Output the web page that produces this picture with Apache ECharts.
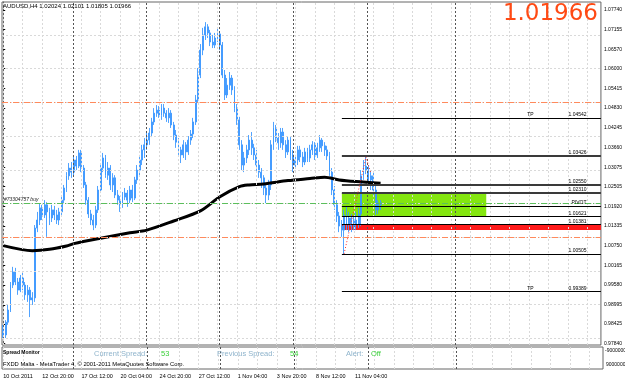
<!DOCTYPE html>
<html><head><meta charset="utf-8">
<script src="https://cdn.jsdelivr.net/npm/echarts@6/dist/echarts.min.js"></script>
<style>html,body{margin:0;padding:0;background:#fff}#c{width:625px;height:380px}</style>
</head><body><div id="c"></div>
<script>
// ---------------- data ----------------
const symbolName = 'AUDUSD,H4';
const lastOHLC = [1.02024, 1.02101, 1.01805, 1.01966]; // O H L C
const timeLabels = ['10 Oct 2011','12 Oct 20:00','17 Oct 12:00','20 Oct 04:00','24 Oct 20:00','27 Oct 12:00','1 Nov 04:00','3 Nov 20:00','8 Nov 12:00','11 Nov 04:00'];
const timeLabelBars = [0,16,32,48,64,80,96,112,128,144];
const totalSlots = 246;
// [open, close, low, high]
const ohlc = [
[0.9825,0.9810,0.9801,0.9840],[0.9810,0.9848,0.9801,0.9854],[0.9848,0.9884,0.9840,0.9899],[0.9884,0.9958,0.9878,0.9967],
[0.9958,0.9997,0.9949,1.0012],[0.9997,0.9967,0.9958,1.0009],[0.9967,0.9943,0.9929,0.9979],[0.9943,0.9979,0.9937,0.9988],
[0.9979,0.9958,0.9943,0.9994],[0.9958,0.9929,0.9914,0.9967],[0.9929,0.9943,0.9908,0.9958],[0.9943,0.9914,0.9863,0.9952],
[0.9914,0.9920,0.9899,0.9937],[0.9920,1.0127,0.9908,1.0136],[1.0127,1.0151,1.0115,1.0175],[1.0151,1.0187,1.0136,1.0201],
[1.0187,1.0166,1.0151,1.0196],[1.0166,1.0196,1.0157,1.0210],[1.0196,1.0175,1.0101,1.0204],[1.0175,1.0157,1.0136,1.0187],
[1.0157,1.0181,1.0145,1.0196],[1.0181,1.0166,1.0151,1.0193],[1.0166,1.0151,1.0139,1.0181],[1.0151,1.0175,1.0136,1.0187],
[1.0175,1.0210,1.0166,1.0222],[1.0210,1.0246,1.0201,1.0255],[1.0246,1.0282,1.0234,1.0293],[1.0282,1.0305,1.0270,1.0320],
[1.0305,1.0293,1.0276,1.0323],[1.0293,1.0329,1.0282,1.0338],[1.0329,1.0311,1.0299,1.0341],[1.0311,1.0350,1.0305,1.0359],
[1.0350,1.0305,1.0293,1.0359],[1.0305,1.0255,1.0246,1.0314],[1.0255,1.0210,1.0196,1.0264],[1.0210,1.0169,1.0157,1.0219],
[1.0169,1.0151,1.0136,1.0181],[1.0151,1.0136,1.0121,1.0166],[1.0136,1.0181,1.0127,1.0193],[1.0181,1.0240,1.0172,1.0252],
[1.0240,1.0305,1.0231,1.0314],[1.0305,1.0335,1.0293,1.0350],[1.0335,1.0284,1.0276,1.0344],[1.0284,1.0305,1.0270,1.0323],
[1.0305,1.0255,1.0240,1.0314],[1.0255,1.0276,1.0234,1.0290],[1.0276,1.0225,1.0216,1.0284],[1.0225,1.0210,1.0196,1.0240],
[1.0210,1.0196,1.0175,1.0222],[1.0196,1.0219,1.0187,1.0234],[1.0219,1.0231,1.0210,1.0246],[1.0231,1.0210,1.0190,1.0240],
[1.0210,1.0240,1.0201,1.0252],[1.0240,1.0216,1.0204,1.0255],[1.0216,1.0270,1.0210,1.0279],[1.0270,1.0299,1.0258,1.0314],
[1.0299,1.0329,1.0284,1.0344],[1.0329,1.0359,1.0314,1.0374],[1.0359,1.0374,1.0335,1.0394],[1.0374,1.0388,1.0359,1.0409],
[1.0388,1.0409,1.0374,1.0424],[1.0409,1.0442,1.0397,1.0454],[1.0442,1.0468,1.0433,1.0483],[1.0468,1.0477,1.0457,1.0492],
[1.0477,1.0462,1.0454,1.0489],[1.0462,1.0483,1.0448,1.0495],[1.0483,1.0468,1.0457,1.0495],[1.0468,1.0454,1.0442,1.0477],
[1.0454,1.0468,1.0439,1.0483],[1.0468,1.0433,1.0424,1.0477],[1.0433,1.0403,1.0388,1.0442],[1.0403,1.0382,1.0365,1.0418],
[1.0382,1.0359,1.0344,1.0394],[1.0359,1.0344,1.0320,1.0368],[1.0344,1.0374,1.0335,1.0388],[1.0374,1.0353,1.0329,1.0382],
[1.0353,1.0388,1.0344,1.0400],[1.0388,1.0406,1.0374,1.0418],[1.0406,1.0442,1.0394,1.0454],[1.0442,1.0507,1.0433,1.0522],
[1.0507,1.0581,1.0498,1.0602],[1.0581,1.0655,1.0572,1.0673],[1.0655,1.0700,1.0640,1.0721],[1.0700,1.0724,1.0685,1.0738],
[1.0724,1.0706,1.0691,1.0732],[1.0706,1.0679,1.0667,1.0715],[1.0679,1.0670,1.0661,1.0700],[1.0670,1.0691,1.0661,1.0706],
[1.0691,1.0703,1.0679,1.0721],[1.0703,1.0670,1.0655,1.0709],[1.0670,1.0581,1.0572,1.0679],[1.0581,1.0522,1.0507,1.0596],
[1.0522,1.0551,1.0513,1.0572],[1.0551,1.0572,1.0537,1.0590],[1.0572,1.0537,1.0522,1.0581],[1.0537,1.0483,1.0471,1.0548],
[1.0483,1.0448,1.0433,1.0495],[1.0448,1.0374,1.0359,1.0457],[1.0374,1.0314,1.0299,1.0388],[1.0314,1.0335,1.0293,1.0353],
[1.0335,1.0359,1.0320,1.0374],[1.0359,1.0388,1.0344,1.0403],[1.0388,1.0365,1.0344,1.0412],[1.0365,1.0344,1.0329,1.0377],
[1.0344,1.0314,1.0293,1.0359],[1.0314,1.0293,1.0276,1.0329],[1.0293,1.0276,1.0246,1.0305],[1.0276,1.0246,1.0225,1.0284],
[1.0246,1.0225,1.0201,1.0261],[1.0225,1.0255,1.0210,1.0270],[1.0255,1.0374,1.0240,1.0388],[1.0374,1.0424,1.0359,1.0442],
[1.0424,1.0394,1.0382,1.0433],[1.0394,1.0380,1.0359,1.0409],[1.0380,1.0412,1.0365,1.0424],[1.0412,1.0374,1.0359,1.0424],
[1.0374,1.0353,1.0335,1.0388],[1.0353,1.0388,1.0344,1.0400],[1.0388,1.0344,1.0329,1.0397],[1.0344,1.0314,1.0293,1.0359],
[1.0314,1.0329,1.0305,1.0344],[1.0329,1.0359,1.0314,1.0371],[1.0359,1.0338,1.0323,1.0371],[1.0338,1.0323,1.0308,1.0353],
[1.0323,1.0353,1.0314,1.0365],[1.0353,1.0335,1.0323,1.0365],[1.0335,1.0359,1.0323,1.0374],[1.0359,1.0374,1.0344,1.0385],
[1.0374,1.0344,1.0329,1.0382],[1.0344,1.0365,1.0335,1.0380],[1.0365,1.0388,1.0353,1.0403],[1.0388,1.0371,1.0353,1.0394],
[1.0371,1.0359,1.0341,1.0382],[1.0359,1.0341,1.0329,1.0371],[1.0341,1.0293,1.0282,1.0353],[1.0293,1.0240,1.0225,1.0305],
[1.0240,1.0196,1.0181,1.0252],[1.0196,1.0163,1.0145,1.0210],[1.0163,1.0133,1.0115,1.0175],[1.0133,1.0121,1.0101,1.0151],
[1.0121,1.0166,1.0050,1.0181],[1.0166,1.0136,1.0121,1.0193],[1.0136,1.0157,1.0115,1.0175],[1.0157,1.0133,1.0115,1.0169],
[1.0133,1.0151,1.0121,1.0163],[1.0151,1.0139,1.0121,1.0175],[1.0139,1.0169,1.0127,1.0187],[1.0169,1.0282,1.0133,1.0299],
[1.0282,1.0311,1.0270,1.0329],[1.0311,1.0299,1.0287,1.0338],[1.0299,1.0270,1.0252,1.0314],[1.0270,1.0282,1.0240,1.0299],
[1.0282,1.0240,1.0225,1.0293],[1.0240,1.0181,1.0166,1.0252],[1.0181,1.0202,1.0169,1.0210],[1.02024,1.01966,1.01805,1.02101]
];
// moving average read at bar positions: [bar, value]
const maPoints = [[0,1.0075],[12,1.0060],[19,1.0064],[26,1.0074],[29,1.0081],[40,1.0097],[52,1.0113],[59,1.0121],[70,1.0148],[81,1.0178],[89,1.0220],[97,1.0250],[101,1.0255],[107,1.0258],[117,1.0268],[126,1.0274],[132,1.0278],[138,1.0270],[145,1.0265],[155,1.0260]];
const yTicks = [1.07740,1.07155,1.06570,1.06000,1.05415,1.04830,1.04245,1.03660,1.03075,1.02505,1.01920,1.01335,1.00750,1.00165,0.99580,0.98995,0.98425,0.97840];
const weekSeparators = [28.7, 58.9, 88.9, 119, 149.5, 185.6];
const levelPrices = [1.04542, 1.03426, 1.02550, 1.02310, 1.0193, 1.01621, 1.01381, 1.00505, 0.99389];
const levelTexts  = ['1.04542','1.03426','1.02550','1.02310','PIVOT','1.01621','1.01381','1.00505','0.99389'];
const levelTags   = ['TP','','','','','','','','TP'];
const levelStart = 139.1;
const orderBuy = 1.02036, orderTP = 1.04542, orderSL = 1.0137;
const orderText = '#73304757 buy';
const greenZone = [139.1, 198.4, 1.02310, 1.01621];
const redZone = [139.1, 245.5, 1.01381, 1.01212];
const zigzag = [[140,1.00505],[149,1.0338],[151,1.0290]];
const spreadCurrent = 53, spreadPrevious = 54, alertState = 'Off';
const subAxisLabels = ['-9000000','9000000'];

// --------------- chart ----------------
const F = 'Liberation Sans';
const categories = Array.from({length: totalSlots}, () => '');
timeLabelBars.forEach((b, k) => { categories[b] = timeLabels[k]; });
const gridCols = [];
for (let i = 0; i <= 240; i += 8) gridCols.push(i);

const chart = echarts.init(document.getElementById('c'));
const noLbl = {show: false};
function mlSeries(xi, yi, z, data, style) {
  return {type:'line', xAxisIndex:xi, yAxisIndex:yi, data:[], z, silent:true, animation:false,
    markLine:{symbol:'none', silent:true, animation:false, label:noLbl, lineStyle:style, data}};
}
const series = [
  mlSeries(1,0,0, yTicks.map(v=>({yAxis:v})).concat(gridCols.map(v=>({xAxis:v}))), {color:'#d9d9d9', type:[2,2], width:1}),
  mlSeries(1,0,1, weekSeparators.map(v=>({xAxis:v})), {color:'#555', type:[2,2], width:1}),
  mlSeries(3,1,0, gridCols.map(v=>({xAxis:v})), {color:'#d9d9d9', type:[2,2], width:1}),
  mlSeries(3,1,1, weekSeparators.map(v=>({xAxis:v})), {color:'#555', type:[2,2], width:1}),
  {type:'line', xAxisIndex:1, yAxisIndex:0, data:[], z:1, silent:true,
   markArea:{silent:true, label:noLbl, data:[
     [{coord:[greenZone[0], greenZone[2]], itemStyle:{color:'#84e60f'}}, {coord:[greenZone[1], greenZone[3]]}],
     [{coord:[redZone[0], redZone[2]], itemStyle:{color:'#ff1a1a'}}, {coord:[redZone[1], redZone[3]]}]
   ]}},
  mlSeries(1,0,2, [{yAxis:orderBuy, lineStyle:{color:'#5cbf5c'}}, {yAxis:orderTP}, {yAxis:orderSL}], {color:'#ff8a5c', type:[6,2,1,2], width:1}),
  {type:'candlestick', xAxisIndex:0, yAxisIndex:0, z:3, data: ohlc, barWidth:1.4, silent:true,
   itemStyle:{color:'#1a7cff', color0:'#1a7cff', borderColor:'#3d98ff', borderColor0:'#3d98ff', borderWidth:0.9},
   markLine:{symbol:'none', silent:true, lineStyle:{opacity:0},
     label:{show:true, position:'end', distance:1, formatter: lastOHLC[3].toFixed(5), backgroundColor:'#000', color:'#fff', fontSize:5, fontFamily:F, padding:[1,1,1,2]},
     data:[{yAxis:lastOHLC[3]}]}},
  {type:'line', xAxisIndex:1, yAxisIndex:0, z:4, data: maPoints, showSymbol:false, smooth:0.3, silent:true,
   lineStyle:{color:'#000', width:3}},
  mlSeries(1,0,5, levelPrices.map((p,k)=>[{coord:[levelStart,p], lineStyle:{width:(k>=1&&k<=3)?2:1, color:(k>=1&&k<=3)?'#3a3a3a':'#000'}},{coord:[totalSlots-0.5,p]}]), {color:'#000', type:'solid', width:1}),
  {type:'line', xAxisIndex:1, yAxisIndex:0, z:6, data: zigzag, showSymbol:false, silent:true,
   lineStyle:{color:'#ff3030', type:[1,2], width:1}},
  {type:'custom', xAxisIndex:1, yAxisIndex:0, z:7, silent:true,
   data: levelPrices.map((p,k)=>[k,p]),
   encode:{x:0, y:1},
   renderItem(params, api){
     const k = api.value(0), p = api.value(1);
     const a = api.coord([239.6, p]);
     const ch = [{type:'text', style:{text:levelTexts[k], x:a[0], y:a[1]-0.5, align:'right', verticalAlign:'bottom', font:'5px "'+F+'"', fill:'#000'}}];
     if (levelTags[k]) {
       const b = api.coord([215.2, p]);
       ch.push({type:'text', style:{text:levelTags[k], x:b[0], y:b[1]-0.5, align:'left', verticalAlign:'bottom', font:'5px "'+F+'"', fill:'#000'}});
     }
     return {type:'group', children:ch};
   }},
  {type:'custom', xAxisIndex:1, yAxisIndex:0, z:7, silent:true,
   data:[[0.3, orderBuy]], encode:{x:0,y:1},
   renderItem(params, api){
     const a = api.coord([api.value(0), api.value(1)]);
     return {type:'text', style:{text:orderText, x:a[0], y:a[1]-0.5, align:'left', verticalAlign:'bottom', font:'italic 5px "'+F+'"', fill:'#222'}};
   }}
];

chart.setOption({
  animation:false,
  backgroundColor:'#fff',
  grid:[
    {left:2, right:22, top:2, height:343, show:true, borderColor:'#666', borderWidth:1, containLabel:false},
    {left:2, right:22, top:347, height:22, show:true, borderColor:'#666', borderWidth:1, containLabel:false}
  ],
  xAxis:[
    {type:'category', gridIndex:0, data:categories, show:false},
    {type:'value', gridIndex:0, min:-0.5, max:totalSlots-0.5, show:false},
    {type:'category', gridIndex:1, data:categories, position:'bottom',
     axisLine:{show:false}, axisTick:{show:false}, splitLine:{show:false},
     axisLabel:{interval:0, align:'left', fontSize:5.5, fontFamily:F, color:'#000', margin:4, hideOverlap:false}},
    {type:'value', gridIndex:1, min:-0.5, max:totalSlots-0.5, show:false}
  ],
  yAxis:[
    {type:'value', gridIndex:0, position:'right', min:0.978017, max:1.079774, scale:true,
     axisLine:{show:true, lineStyle:{color:'#666'}},
     axisTick:{show:true, length:2, customValues:yTicks, lineStyle:{color:'#000'}},
     axisLabel:{customValues:yTicks, formatter:v=>v.toFixed(5), fontSize:5, fontFamily:F, color:'#000', margin:3, showMinLabel:true, showMaxLabel:true},
     splitLine:{show:false}},
    {type:'value', gridIndex:1, min:-1, max:1, show:false}
  ],
  graphic:[
    {type:'text', left:3, top:3, z:100, style:{text:symbolName+' '+lastOHLC.map(v=>v.toFixed(5)).join(' '), font:'6px "'+F+'"', fill:'#000'}},
    {type:'text', right:27, top:3, z:100, style:{text:lastOHLC[3].toFixed(5), font:'23px "DejaVu Sans"', fill:'#ff4a14'}},
    {type:'text', left:3, top:350, z:100, style:{text:'Spread Monitor', font:'bold 5px "'+F+'"', fill:'#000'}},
    {type:'text', left:94, top:349.5, z:100, style:{text:'Current Spread:', font:'7.5px "'+F+'"', fill:'#8fb4cc'}},
    {type:'text', left:161, top:349.5, z:100, style:{text:String(spreadCurrent), font:'7.5px "'+F+'"', fill:'#3ad03a'}},
    {type:'text', left:217, top:349.5, z:100, style:{text:'Previous Spread:', font:'7.5px "'+F+'"', fill:'#8fb4cc'}},
    {type:'text', left:290, top:349.5, z:100, style:{text:String(spreadPrevious), font:'7.5px "'+F+'"', fill:'#3ad03a'}},
    {type:'text', left:346, top:349.5, z:100, style:{text:'Alert:', font:'7.5px "'+F+'"', fill:'#8fb4cc'}},
    {type:'text', left:371, top:349.5, z:100, style:{text:alertState, font:'7.5px "'+F+'"', fill:'#3ad03a'}},
    {type:'text', left:3, top:361, z:100, style:{text:'FXDD Malta - MetaTrader 4, \u00a9 2001-2011 MetaQuotes Software Corp.', font:'5.8px "'+F+'"', fill:'#000'}},
    {type:'text', left:605, top:348, z:100, style:{text:subAxisLabels[0], font:'5px "'+F+'"', fill:'#000'}},
    {type:'text', left:606, top:362, z:100, style:{text:subAxisLabels[1], font:'5px "'+F+'"', fill:'#000'}}
  ],
  series
});
</script></body></html>
